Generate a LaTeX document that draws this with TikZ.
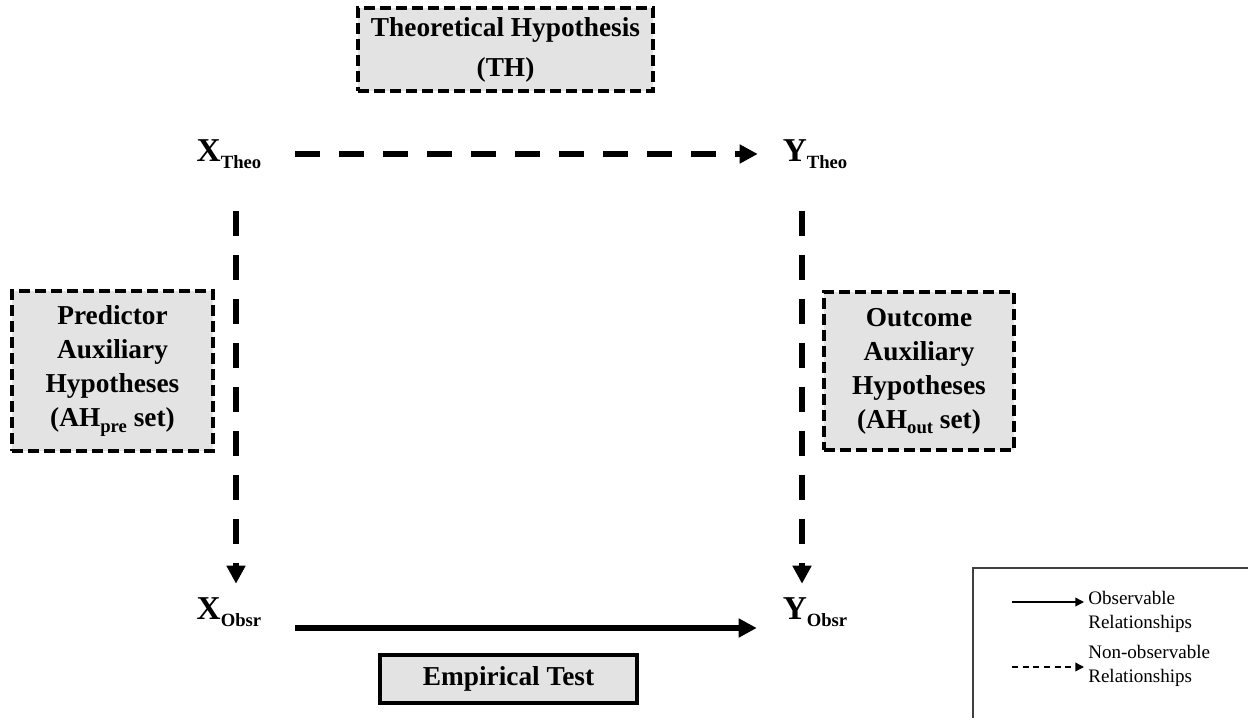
\documentclass[tikz,border=0pt]{standalone}
\usepackage{fontspec}
\setmainfont{Liberation Serif}
\usetikzlibrary{arrows.meta}
\newcommand\subtxt[2]{\raisebox{-#1}{\fontsize{14}{14}\selectfont #2}}
\begin{document}
\begin{tikzpicture}[x=0.75pt,y=-0.75pt,
  hbox/.style={draw=black, fill=black!11, line width=2.4pt, dash pattern=on 8pt off 4pt,
    font=\fontsize{20.5}{25.5}\selectfont\bfseries, align=center, inner sep=0pt},
  ebox/.style={draw=black, fill=black!11, line width=3pt,
    font=\fontsize{20.5}{25.5}\selectfont\bfseries, align=center, inner sep=0pt},
  lab/.style={font=\fontsize{25}{25}\selectfont\bfseries, inner sep=0pt, minimum width=49.5pt, minimum height=30pt},
  darr/.style={line width=4.5pt, dash pattern=on 18.75pt off 14.25pt, -{Triangle[length=13.5pt,width=13.5pt]}},
  sarr/.style={line width=4.5pt, -{Triangle[length=13.5pt,width=13.5pt]}},
  lsarr/.style={line width=1.1pt, -{Triangle[length=6.5pt,width=6.5pt]}},
  ldarr/.style={line width=1.1pt, dash pattern=on 4.5pt off 3.5pt, -{Triangle[length=6.5pt,width=6.5pt]}},
  legtxt/.style={font=\fontsize{14.3}{18}\selectfont, align=left, anchor=west, inner sep=0pt}
]
\useasboundingbox (0,0) rectangle (1248,717);

% hypothesis boxes
\node[hbox, minimum width=221.25pt, minimum height=62.25pt, font=\fontsize{20.5}{30}\selectfont\bfseries] (th) at (505.5,49.5) {Theoretical Hypothesis\\(TH)};
\node[hbox, minimum width=150.75pt, minimum height=120pt] (pre) at (112.5,371) {Predictor\\Auxiliary\\Hypotheses\\(AH\subtxt{4pt}{pre} set)};
\node[hbox, minimum width=142.5pt, minimum height=118.5pt] (out) at (919,371) {Outcome\\Auxiliary\\Hypotheses\\(AH\subtxt{4pt}{out} set)};
\node[ebox, minimum width=192.75pt, minimum height=36pt] (emp) at (508.5,679) {Empirical Test};

% variable labels
\node[lab] (xt) at (229,154) {X\subtxt{5pt}{Theo}};
\node[lab] (yt) at (815,154) {Y\subtxt{5pt}{Theo}};
\node[lab] (xo) at (229,612) {X\subtxt{5pt}{Obsr}};
\node[lab] (yo) at (815,612) {Y\subtxt{5pt}{Obsr}};

% connectors
\draw[darr, shorten <=24.75pt, shorten >=18pt] (xt) -- (yt);
\draw[darr, shorten <=27.75pt, shorten >=6pt] ([xshift=5.25pt]xt.south) -- ([xshift=5.25pt]xo.north);
\draw[darr, shorten <=27.75pt, shorten >=6pt] ([xshift=-9.75pt]yt.south) -- ([xshift=-9.75pt]yo.north);
\draw[sarr, shorten <=24.75pt, shorten >=18.75pt] ([yshift=-12pt]xo.east) -- ([yshift=-12pt]yo.west);

% legend
\node[draw=black!75, line width=1.5pt, anchor=north west, minimum width=240pt, minimum height=130pt, inner sep=0pt] (leg) at (972,567) {};
\node[legtxt] (l1t) at (1088,612) {Observable\\Relationships};
\node[legtxt] (l2t) at (1088,666) {Non-observable\\Relationships};
\coordinate (l1a) at (1012,602);
\coordinate (l2a) at (1012,667);
\draw[lsarr, shorten >=3pt] (l1a) -- (l1t.west |- l1a);
\draw[ldarr, shorten >=3pt] (l2a) -- (l2t.west |- l2a);
\end{tikzpicture}
\end{document}
